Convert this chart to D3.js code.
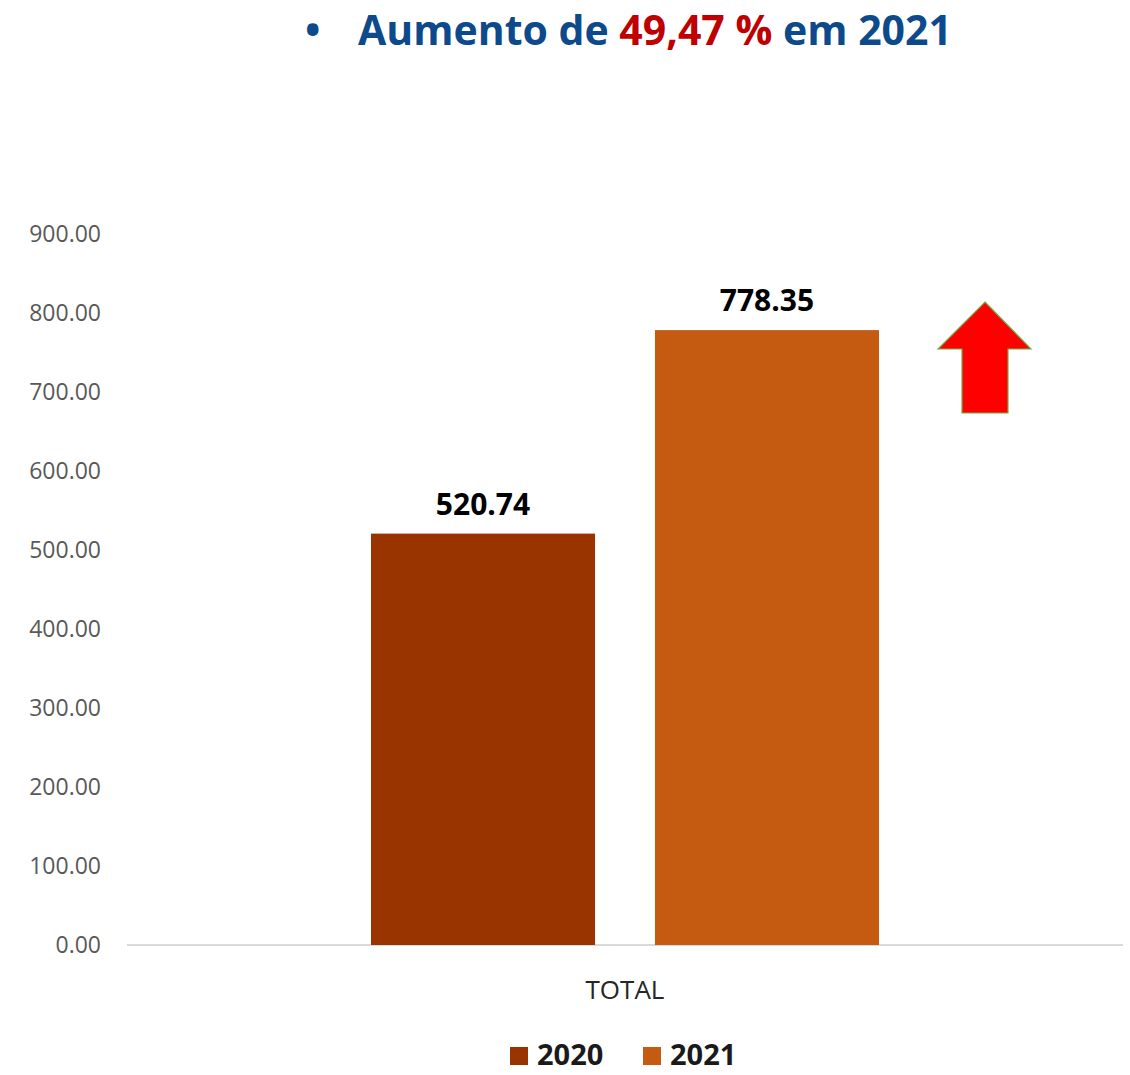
<!DOCTYPE html>
<html>
<head>
<meta charset="utf-8">
<script src="https://cdn.jsdelivr.net/npm/d3@7"></script>
<style>
  body { margin: 0; background: #fff; }
  svg { display: block; font-family: "Open Sans", "Liberation Sans", sans-serif; }
</style>
</head>
<body>
<div id="chart"></div>
<script>
// data
const categories = ["TOTAL"];
const years = ["2020", "2021"];
const values2020 = [520.74];
const values2021 = [778.35];
const yTicks = [0, 100, 200, 300, 400, 500, 600, 700, 800, 900];

const W = 1130, H = 1075;
const margin = { LEFT: 127, RIGHT: 7, TOP: 234, BOTTOM: 130 };

const svg = d3.select("#chart").append("svg")
  .attr("width", W)
  .attr("height", H);

const colors = d3.scaleOrdinal().domain(years).range(["#993300", "#C55A11"]);

// scales
const x0 = d3.scaleBand()
  .domain(categories)
  .range([margin.LEFT, W - margin.RIGHT])
  .paddingInner(0)
  .paddingOuter(0.4803);
const x1 = d3.scaleBand()
  .domain(years)
  .range([0, x0.bandwidth()])
  .paddingInner(0.211)
  .paddingOuter(0);
const y = d3.scaleLinear().domain([0, 900]).range([945, 234]);

// title
const title = svg.append("text")
  .attr("x", 305)
  .attr("y", 45)
  .attr("font-size", "41px")
  .attr("font-weight", "bold")
  .attr("fill", "#0D4A8B");
title.append("tspan").text("•");
title.append("tspan").attr("x", 358).text("Aumento de ");
title.append("tspan").attr("fill", "#C00000").text("49,47 %");
title.append("tspan").text(" em 2021");

// y axis labels (no line)
const yAxis = svg.append("g")
  .attr("transform", `translate(${margin.LEFT}, 0)`)
  .call(d3.axisLeft(y).tickValues(yTicks).tickSize(0).tickPadding(26).tickFormat(d3.format(".2f")));
yAxis.select(".domain").remove();
yAxis.selectAll("text")
  .attr("font-size", "23px")
  .attr("fill", "#595959")
  .attr("font-family", "'Open Sans', sans-serif");

// baseline
svg.append("line")
  .attr("x1", margin.LEFT)
  .attr("x2", W - margin.RIGHT)
  .attr("y1", y(0))
  .attr("y2", y(0))
  .attr("stroke", "#D9D9D9")
  .attr("stroke-width", 2);

// bars
const rows = categories.map((c, i) => ({ cat: c, vals: [
  { year: "2020", value: values2020[i] },
  { year: "2021", value: values2021[i] }
] }));

const groups = svg.selectAll(".grp")
  .data(rows)
  .enter().append("g")
  .attr("class", "grp")
  .attr("transform", d => `translate(${x0(d.cat)}, 0)`);

groups.selectAll("rect")
  .data(d => d.vals)
  .enter().append("rect")
  .attr("x", d => x1(d.year))
  .attr("width", x1.bandwidth())
  .attr("y", d => y(d.value))
  .attr("height", d => y(0) - y(d.value))
  .attr("fill", d => colors(d.year));

groups.selectAll(".lbl")
  .data(d => d.vals)
  .enter().append("text")
  .attr("class", "lbl")
  .attr("x", d => x1(d.year) + x1.bandwidth() / 2)
  .attr("y", d => y(d.value) - 19)
  .attr("text-anchor", "middle")
  .attr("font-size", "30px")
  .attr("font-weight", "bold")
  .attr("fill", "#000")
  .text(d => d3.format(".2f")(d.value));

// category label
svg.selectAll(".cat")
  .data(categories)
  .enter().append("text")
  .attr("class", "cat")
  .attr("x", d => x0(d) + x0.bandwidth() / 2)
  .attr("y", 999)
  .attr("text-anchor", "middle")
  .attr("font-size", "26px")
  .attr("fill", "#262626")
  .text(d => d);

// red arrow
const ax = 985, aTop = 302;
svg.append("path")
  .attr("d", `M${ax},${aTop} L${ax + 46},${aTop + 47} L${ax + 23},${aTop + 47} L${ax + 23},${aTop + 111} L${ax - 23},${aTop + 111} L${ax - 23},${aTop + 47} L${ax - 47},${aTop + 47} Z`)
  .attr("fill", "#FF0000")
  .attr("stroke", "#70AD47")
  .attr("stroke-width", 1.2);

// legend
const legendX = [510, 643];
const legend = svg.selectAll(".leg")
  .data(years)
  .enter().append("g")
  .attr("class", "leg")
  .attr("transform", (d, i) => `translate(${legendX[i]}, 1047)`);
legend.append("rect")
  .attr("width", 18)
  .attr("height", 18)
  .attr("fill", d => colors(d));
legend.append("text")
  .attr("x", 27)
  .attr("y", 18)
  .attr("font-size", "29px")
  .attr("font-weight", "bold")
  .attr("fill", "#1a1a1a")
  .text(d => d);
</script>
</body>
</html>
